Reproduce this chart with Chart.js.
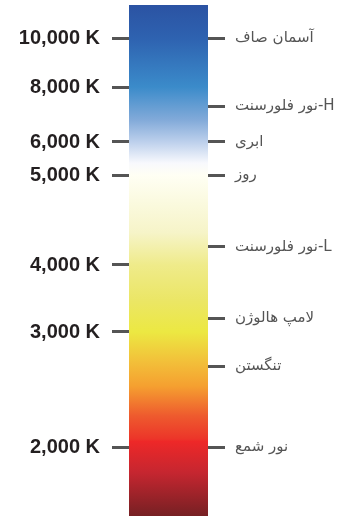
<!DOCTYPE html>
<html lang="fa">
<head>
<meta charset="utf-8">
<title>دمای رنگ</title>
<script src="https://cdn.jsdelivr.net/npm/chart.js@4/dist/chart.umd.min.js"></script>
<style>
    html, body { margin: 0; padding: 0; background: #ffffff; }
    #grafico-wrap { position: relative; width: 360px; height: 516px; }
</style>
</head>
<body>
<div id="grafico-wrap"><canvas id="grafico-temperatura-cor"></canvas></div>
<script>
// dados
const temperaturasEixo = [10000, 8000, 6000, 5000, 4000, 3000, 2000];
const fontesLuz = ['آسمان صاف', 'نور فلورسنت-H', 'ابری', 'روز', 'نور فلورسنت-L', 'لامپ هالوژن', 'تنگستن', 'نور شمع'];
const temperaturasFontes = [10000, 7300, 6000, 5000, 4200, 3200, 2700, 2000];
const faixaEspectro = [1400, 11400];

// geometria do eixo: a figura não é linear nem logarítmica,
// então cada temperatura de referência tem sua fração da altura (0 = base)
const ancorasEixo = [
    [11400, 1],
    [10000, 0.9354],
    [8000, 0.8395],
    [6000, 0.7319],
    [5000, 0.6673],
    [4000, 0.4912],
    [3000, 0.3601],
    [2000, 0.1350],
    [1400, 0]
];

// paradas do degradê (temperatura, cor)
const paradasDegrade = [
    [11400, '#2b53a3'],
    [10000, '#2e62b0'],
    [8000, '#3b8bca'],
    [6800, '#82aad9'],
    [6000, '#bdd0ec'],
    [5360, '#f8f9fd'],
    [5000, '#fffff4'],
    [4360, '#f6f4c8'],
    [4000, '#efeb8a'],
    [3480, '#ebe666'],
    [3000, '#ece842'],
    [2757, '#f2c23a'],
    [2530, '#f5a030'],
    [2270, '#ee5a2e'],
    [2070, '#ec3529'],
    [2050, '#ee2828'],
    [1774, '#c52630'],
    [1400, '#762023']
];

function kelvinParaFracao(valor) {
    for (let i = 0; i < ancorasEixo.length - 1; i++) {
        const [t1, f1] = ancorasEixo[i];
        const [t2, f2] = ancorasEixo[i + 1];
        if (valor <= t1 && valor >= t2) {
            return f2 + (valor - t2) / (t1 - t2) * (f1 - f2);
        }
    }
    return valor > ancorasEixo[0][0] ? 1 : 0;
}

function fracaoParaKelvin(fracao) {
    for (let i = 0; i < ancorasEixo.length - 1; i++) {
        const [t1, f1] = ancorasEixo[i];
        const [t2, f2] = ancorasEixo[i + 1];
        if (fracao <= f1 && fracao >= f2) {
            return t2 + (fracao - f2) / (f1 - f2) * (t1 - t2);
        }
    }
    return fracao > 1 ? ancorasEixo[0][0] : ancorasEixo[ancorasEixo.length - 1][0];
}

class EscalaKelvin extends Chart.LinearScale {
    getPixelForValue(valor) {
        return this.getPixelForDecimal(kelvinParaFracao(valor));
    }
    getValueForPixel(pixel) {
        return fracaoParaKelvin(this.getDecimalForPixel(pixel));
    }
}
EscalaKelvin.id = 'kelvin';
EscalaKelvin.defaults = Chart.LinearScale.defaults;
Chart.register(EscalaKelvin);

function criarDegrade(contexto) {
    const { chart } = contexto;
    const { chartArea, scales } = chart;
    if (!chartArea) return '#ffffff';
    const eixo = scales.y;
    const topo = eixo.getPixelForValue(faixaEspectro[1]);
    const base = eixo.getPixelForValue(faixaEspectro[0]);
    const degrade = chart.ctx.createLinearGradient(0, topo, 0, base);
    paradasDegrade.forEach(([temp, cor]) => {
        const pos = (eixo.getPixelForValue(temp) - topo) / (base - topo);
        degrade.addColorStop(Math.min(1, Math.max(0, pos)), cor);
    });
    return degrade;
}

function ajustarLargura(largura) {
    return escala => {
        escala.width = largura;
        escala.paddingTop = 0;
        escala.paddingBottom = 0;
    };
}

const gradeTicks = {
    drawOnChartArea: false,
    drawTicks: true,
    tickLength: 17,
    tickWidth: 3,
    tickColor: '#555555'
};

new Chart(document.getElementById('grafico-temperatura-cor'), {
    type: 'bar',
    data: {
        labels: ['K'],
        datasets: [{
            label: 'دمای رنگ',
            data: [faixaEspectro],
            backgroundColor: criarDegrade,
            borderWidth: 0,
            barPercentage: 1,
            categoryPercentage: 1,
            yAxisID: 'y'
        }]
    },
    options: {
        responsive: true,
        maintainAspectRatio: false,
        animation: false,
        layout: { padding: { top: 5, bottom: 0, left: 0, right: 0 } },
        plugins: {
            legend: { display: false },
            tooltip: { enabled: false }
        },
        scales: {
            x: { display: false },
            y: {
                type: 'kelvin',
                position: 'left',
                min: faixaEspectro[0],
                max: faixaEspectro[1],
                border: { display: false },
                grid: gradeTicks,
                afterBuildTicks: escala => { escala.ticks = temperaturasEixo.map(v => ({ value: v })); },
                afterFit: ajustarLargura(129),
                ticks: {
                    autoSkip: false,
                    padding: 12,
                    color: '#231f20',
                    font: { family: "'Liberation Sans', Arial, sans-serif", size: 20, weight: 'bold' },
                    callback: valor => valor.toLocaleString('en-US') + ' K'
                }
            },
            y2: {
                type: 'kelvin',
                position: 'right',
                min: faixaEspectro[0],
                max: faixaEspectro[1],
                border: { display: false },
                grid: gradeTicks,
                afterBuildTicks: escala => { escala.ticks = temperaturasFontes.map(v => ({ value: v })); },
                afterFit: ajustarLargura(152),
                ticks: {
                    autoSkip: false,
                    padding: 10,
                    color: '#555555',
                    font: { family: "'DejaVu Sans', sans-serif", size: 15 },
                    callback: (valor, indice) => fontesLuz[indice]
                }
            }
        }
    }
});
</script>
</body>
</html>
